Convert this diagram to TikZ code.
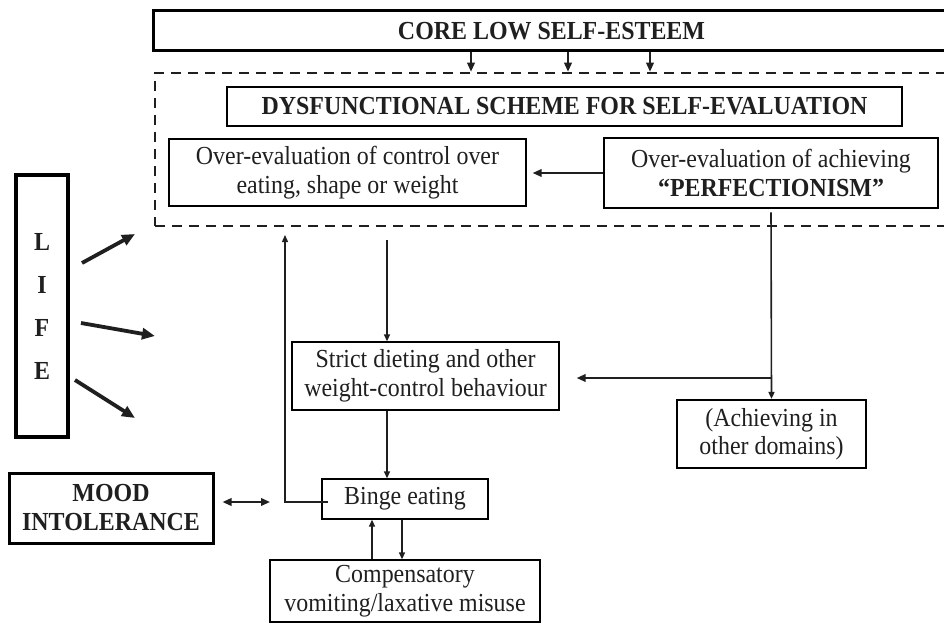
\documentclass[tikz,border=0pt]{standalone}
\usepackage{fontspec}
\setmainfont{Liberation Serif}[FakeStretch=0.92]
\usetikzlibrary{arrows.meta}
\begin{document}
\begin{tikzpicture}[x=1pt,y=-1pt,
  txt/.style={font=\fontsize{26}{28.5}\selectfont},
  box/.style={draw, rectangle, inner sep=0pt, align=center, txt, line width=1.3pt, text=black!88},
  thickbox/.style={box, line width=3pt},
  thinarrow/.style={line width=1.3pt, draw=black!88, -{Triangle[length=7pt,width=6pt]}},
  medarrow/.style={line width=2pt, draw=black!88, -{Triangle[length=9pt,width=7.5pt]}},
  lifearrow/.style={line width=3.8pt, draw=black!88, -{Triangle[length=13pt,width=11pt]}},
  dblarrow/.style={line width=2pt, draw=black!88, {Triangle[length=9pt,width=7.5pt]}-{Triangle[length=9pt,width=7.5pt]}}
]
\useasboundingbox (0,0) rectangle (944,631);
\clip (0,0) rectangle (944,631);

% dashed scheme frame
\node[draw=black!88, rectangle, dash pattern=on 10pt off 7pt, line width=2.5pt,
      minimum width=795pt, minimum height=153pt, inner sep=0pt] (scheme) at (552.5,149.5) {};

% boxes
\node[thickbox, minimum width=797pt, minimum height=40pt] (core) at (551.5,31)
  {\bfseries CORE LOW SELF-ESTEEM};
\node[box, minimum width=675pt, minimum height=39pt] (dys) at (564.5,106.5)
  {\bfseries DYSFUNCTIONAL SCHEME FOR SELF-EVALUATION};
\node[box, minimum width=357pt, minimum height=67pt] (ctrl) at (347.5,172.5)
  {Over-evaluation of control over\\eating, shape or weight};
\node[thickbox, line width=2.8pt, minimum width=334pt, minimum height=70pt] (perf) at (771,173)
  {Over-evaluation of achieving\\\textbf{“PERFECTIONISM”}};
\node[thickbox, line width=4pt, minimum width=52pt, minimum height=262pt,
      font=\fontsize{26}{43}\selectfont\bfseries] (life) at (42,306) {L\\I\\F\\E};
\node[box, minimum width=267pt, minimum height=68pt] (strict) at (425.5,376)
  {Strict dieting and other\\weight-control behaviour};
\node[box, line width=2.2pt, minimum width=189pt, minimum height=68pt] (ach) at (771.5,434)
  {(Achieving in\\other domains)};
\node[box, minimum width=166pt, minimum height=40pt] (binge) at (405,499) {Binge eating};
\node[box, minimum width=270pt, minimum height=62pt] (comp) at (405,591)
  {Compensatory\\vomiting/laxative misuse};
\node[thickbox, minimum width=204pt, minimum height=70pt,
      font=\fontsize{26}{29}\selectfont\bfseries] (mood) at (111,508) {MOOD\\INTOLERANCE};

% core arrows into the scheme
\coordinate (a1) at (471,0);
\coordinate (a2) at (568,0);
\coordinate (a3) at (650,0);
\foreach \c in {a1,a2,a3}
  \draw[medarrow] (core.south -| \c) -- (scheme.north -| \c);

% perfectionism -> control
\draw[medarrow, shorten >=6pt] (perf.west) -- (perf.west -| ctrl.east);

% perfectionism -> achieving, branch -> strict
\draw[thinarrow, line width=1.6pt, shorten <=3pt] (perf.south) -- (ach.north);
\coordinate (br) at (771,378);
\draw[medarrow, shorten >=17pt] (br) -- (br -| strict.east);

% scheme -> strict -> binge
\coordinate (colA) at (387,240);
\draw[thinarrow] (colA) -- (colA |- strict.north);
\draw[thinarrow] (colA |- strict.south) -- (colA |- binge.north);

% binge -> back up to scheme
\coordinate (loopx) at (285,235);
\coordinate (bl) at (328,502);
\draw[thinarrow] (bl) -- (bl -| loopx) -- (loopx);

% binge <-> compensatory
\coordinate (cu) at (372,0);
\coordinate (cd) at (402,0);
\draw[thinarrow] (cu |- comp.north) -- (cu |- binge.south);
\draw[thinarrow] (cd |- binge.south) -- (cd |- comp.north);

% mood <-> binge
\coordinate (mEnd) at (270,502);
\draw[dblarrow, shorten <=8pt] (mood.east |- mEnd) -- (mEnd);

% life arrows
\coordinate (l1s) at (82,263);  \coordinate (l1e) at (135,234);
\coordinate (l2s) at (81,323);  \coordinate (l2e) at (155,336);
\coordinate (l3s) at (75,380);  \coordinate (l3e) at (135,418);
\draw[lifearrow] (l1s) -- (l1e);
\draw[lifearrow] (l2s) -- (l2e);
\draw[lifearrow] (l3s) -- (l3e);
\end{tikzpicture}
\end{document}
